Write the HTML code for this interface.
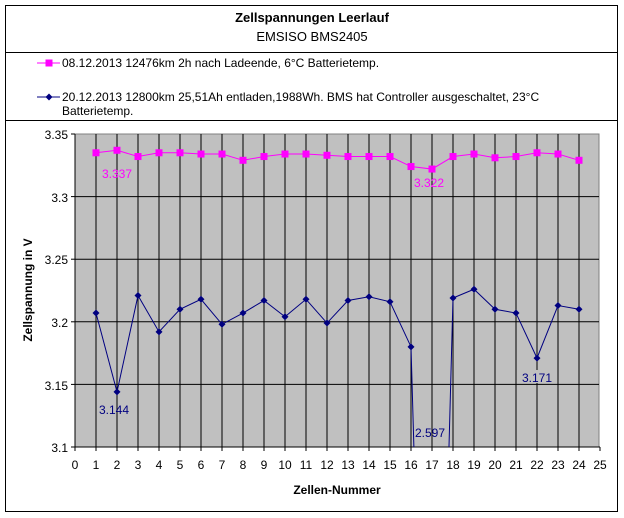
<!DOCTYPE html>
<html><head><meta charset="utf-8"><style>html,body{margin:0;padding:0;background:#fff;width:624px;height:518px;overflow:hidden}svg{display:block;font-family:"Liberation Sans",sans-serif}</style></head><body>
<svg id="s" width="624" height="518" viewBox="0 0 624 518" xmlns="http://www.w3.org/2000/svg">
<rect x="5.5" y="5.5" width="612" height="506" fill="#fff" stroke="#000"/>
<line x1="5" y1="52.5" x2="618" y2="52.5" stroke="#000"/>
<line x1="5" y1="120.5" x2="618" y2="120.5" stroke="#000"/>
<text x="312" y="22" font-size="13" font-weight="bold" text-anchor="middle">Zellspannungen Leerlauf</text>
<text x="312" y="41" font-size="13" text-anchor="middle">EMSISO BMS2405</text>
<line x1="37" y1="63" x2="60" y2="63" stroke="#ff00ff"/><rect x="45.5" y="59.5" width="7" height="7" fill="#ff00ff"/>
<text x="62" y="67" font-size="12">08.12.2013 12476km 2h nach Ladeende, 6°C Batterietemp.</text>
<line x1="37" y1="97" x2="60" y2="97" stroke="#000080"/><path d="M49 93.5 L52.5 97 L49 100.5 L45.5 97Z" fill="#000080"/>
<text x="62" y="101" font-size="12">20.12.2013 12800km 25,51Ah entladen,1988Wh. BMS hat Controller ausgeschaltet, 23°C</text>
<text x="62" y="115" font-size="12">Batterietemp.</text>
<rect x="75" y="134" width="524" height="313" fill="#c0c0c0" stroke="#808080"/>
<g id="grid" stroke="#000"></g>
<g font-size="12" text-anchor="end">
<text x="68" y="139">3.35</text><text x="68" y="202">3.3</text><text x="68" y="264">3.25</text><text x="68" y="327">3.2</text><text x="68" y="390">3.15</text><text x="68" y="452">3.1</text></g>
<g id="xl" font-size="12" text-anchor="middle">
<text x="75" y="469">0</text><text x="96" y="469">1</text><text x="117" y="469">2</text><text x="138" y="469">3</text><text x="159" y="469">4</text><text x="180" y="469">5</text><text x="201" y="469">6</text><text x="222" y="469">7</text><text x="243" y="469">8</text><text x="264" y="469">9</text><text x="285" y="469">10</text><text x="306" y="469">11</text><text x="327" y="469">12</text><text x="348" y="469">13</text><text x="369" y="469">14</text><text x="390" y="469">15</text><text x="411" y="469">16</text><text x="432" y="469">17</text><text x="453" y="469">18</text><text x="474" y="469">19</text><text x="495" y="469">20</text><text x="516" y="469">21</text><text x="537" y="469">22</text><text x="558" y="469">23</text><text x="579" y="469">24</text><text x="600" y="469">25</text></g>
<text x="337" y="494" font-size="12" font-weight="bold" text-anchor="middle">Zellen-Nummer</text>
<text transform="translate(32,290) rotate(-90)" font-size="12" font-weight="bold" text-anchor="middle">Zellspannung in V</text>
<g id="data"></g>
<g font-size="12">
<text x="102" y="178" fill="#ff00ff">3.337</text>
<text x="414" y="187" fill="#ff00ff">3.322</text>
<text x="99" y="414" fill="#000080">3.144</text>
<rect x="521" y="370" width="32" height="13" fill="#c0c0c0"/>
<text x="522" y="382" fill="#000080">3.171</text>
<text x="415" y="437" fill="#000080">2.597</text>
</g>
</svg>
<script>
function px(x){return 75+21*x}function py(v){return 134+(3.35-v)*1252}
var g=document.getElementById('grid'),h='';
for(var i=1;i<=24;i++)h+='<line x1="'+px(i)+'" y1="134" x2="'+px(i)+'" y2="447"/>';
for(var j=1;j<5;j++){var y=134+j*62.6;h+='<line x1="75" y1="'+y+'" x2="599" y2="'+y+'"/>';}
for(var j=0;j<6;j++){var y=134+j*62.6;h+='<line x1="71" y1="'+y+'" x2="75" y2="'+y+'"/>';}
for(var i=0;i<=25;i++)h+='<line x1="'+px(i)+'" y1="447" x2="'+px(i)+'" y2="451"/>';
h+='<line x1="75" y1="134" x2="75" y2="447"/><line x1="75" y1="447" x2="600" y2="447"/>';
g.innerHTML=h;
var P=[3.335,3.337,3.332,3.335,3.335,3.334,3.334,3.329,3.332,3.334,3.334,3.333,3.332,3.332,3.332,3.324,3.322,3.332,3.334,3.331,3.332,3.335,3.334,3.329];
var B=[3.207,3.144,3.221,3.192,3.210,3.218,3.198,3.207,3.217,3.204,3.218,3.199,3.217,3.220,3.216,3.180,2.597,3.219,3.226,3.210,3.207,3.171,3.213,3.210];
var s='';
var pp=P.map(function(v,i){return px(i+1)+','+py(v)}).join(' ');
var b1=B.slice(0,16).map(function(v,i){return px(i+1)+','+py(v)}).join(' ');
var b2=B.slice(17).map(function(v,i){return px(i+18)+','+py(v)}).join(' ');
var xa=16+(3.18-3.1)/(3.18-2.597), xb=18-(3.219-3.1)/(3.219-2.597);
s+='<polyline points="'+pp+'" fill="none" stroke="#ff00ff"/>';
s+='<polyline points="'+b1+' '+px(xa)+',447" fill="none" stroke="#000080"/>';
s+='<polyline points="'+px(xb)+',447 '+b2+'" fill="none" stroke="#000080"/>';
P.forEach(function(v,i){s+='<rect x="'+(px(i+1)-3.5)+'" y="'+(py(v)-3.5)+'" width="7" height="7" fill="#ff00ff"/>'});
B.forEach(function(v,i){if(i==16)return;var x=px(i+1),y=py(v);s+='<path d="M'+x+' '+(y-3.5)+'L'+(x+3.5)+' '+y+'L'+x+' '+(y+3.5)+'L'+(x-3.5)+' '+y+'Z" fill="#000080"/>'});
document.getElementById('data').innerHTML=s;
</script>
</body></html>
